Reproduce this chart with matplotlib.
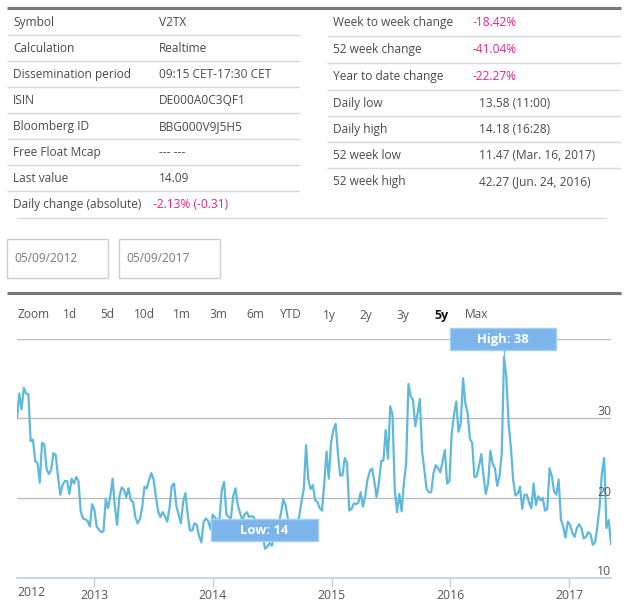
import matplotlib
matplotlib.use("Agg")
import matplotlib.pyplot as plt
import matplotlib.dates as mdates
import pandas as pd
from matplotlib.patches import Rectangle

plt.rcParams['font.family'] = ['Open Sans', 'DejaVu Sans']

left_labels = ["Symbol", "Calculation", "Dissemination period", "ISIN", "Bloomberg ID",
               "Free Float Mcap", "Last value", "Daily change (absolute)"]
left_values = ["V2TX", "Realtime", "09:15 CET-17:30 CET", "DE000A0C3QF1", "BBG000V9J5H5",
               "--- ---", "14.09", "-2.13% (-0.31)"]
right_labels = ["Week to week change", "52 week change", "Year to date change", "Daily low",
                "Daily high", "52 week low", "52 week high"]
right_values = ["-18.42%", "-41.04%", "-22.27%", "13.58 (11:00)", "14.18 (16:28)",
                "11.47 (Mar. 16, 2017)", "42.27 (Jun. 24, 2016)"]
date_inputs = ["05/09/2012", "05/09/2017"]
zoom_labels = ["Zoom", "1d", "5d", "10d", "1m", "3m", "6m", "YTD", "1y", "2y", "3y", "5y", "Max"]
years = [2013, 2014, 2015, 2016, 2017]
y_ticks = [10, 20, 30]

# roughly weekly closes
v2tx = [
    30.0, 33.1, 31.1, 33.8, 33.1, 33.0, 27.1, 27.3, 24.6, 24.4, 21.9, 26.9, 26.7, 23.6, 23.0, 23.5,
    25.6, 25.4, 22.7, 20.4, 21.6, 22.1, 22.1, 20.5, 22.4, 21.8, 22.6, 22.1, 18.3, 17.4, 17.3, 17.1,
    16.4, 19.2, 18.5, 16.4, 16.0, 15.7, 15.8, 19.8, 18.7, 20.2, 22.4, 18.9, 16.6, 20.2, 21.3, 21.0,
    20.1, 21.2, 19.7, 19.5, 17.6, 16.8, 17.3, 18.8, 21.4, 21.2, 22.2, 23.1, 22.3, 20.2, 18.3, 17.6,
    18.2, 17.7, 17.0, 18.7, 21.5, 21.8, 19.0, 17.9, 16.8, 19.5, 20.6, 17.9, 15.9, 15.9, 16.8, 16.6,
    15.2, 14.4, 17.0, 17.4, 17.1, 16.1,
    17.9, 17.5, 17.2, 17.4, 21.0, 22.0, 17.9, 17.6, 17.4, 20.2, 21.2, 19.1, 18.1, 17.2, 17.9, 18.2,
    17.6, 17.7, 17.6, 16.8, 16.2, 15.6, 15.1, 13.6, 13.9, 14.3, 14.0, 15.1, 16.2, 16.8, 18.1, 19.8,
    19.1, 17.4, 16.4, 16.2, 16.4, 16.6, 17.7, 19.5, 21.1, 26.6, 22.3, 21.1, 21.6, 19.7, 19.5, 18.7,
    18.4, 21.8, 25.8, 22.4, 26.9, 28.5, 29.3, 25.6, 22.8, 22.8, 25.0, 24.4, 18.4, 18.6, 19.3, 19.2,
    19.4, 20.7, 18.9, 20.2, 22.3, 23.3, 23.7, 22.1, 20.1, 21.8, 24.6, 24.7, 28.5, 24.9, 31.5, 30.4,
    21.0, 18.2, 20.5, 18.3, 21.8, 24.4, 34.3, 32.7, 32.3, 29.0, 30.6, 32.4, 25.8, 23.5, 21.1, 20.7,
    20.7, 23.1, 24.1, 23.7, 23.2, 24.6, 26.0, 21.8, 22.1, 28.1, 30.4, 32.1, 28.3, 29.4, 35.0, 31.9,
    30.6, 27.4, 26.9, 22.6, 22.7, 24.0, 25.5, 22.7, 20.5, 21.8, 25.9, 24.3, 23.7, 21.5, 22.7, 25.6,
    37.7, 35.2, 29.4, 26.4, 22.3, 20.3, 20.5, 21.4, 18.6, 20.4, 20.4, 19.4, 18.7, 21.8, 19.1, 20.2,
    19.7, 20.0, 18.4, 18.6, 23.7, 22.7, 20.8, 20.4, 22.3, 17.3, 16.4, 15.0, 17.0, 16.6, 15.6, 15.1,
    16.2, 16.7, 16.2, 14.9, 15.1, 15.7, 15.4, 14.1, 14.4, 16.4, 18.9, 23.1, 25.0, 16.2, 17.2, 14.2,
]

TEXT = "#4a4a4a"
PINK = "#e6228c"
RULE = "#d8d8d8"
BAR = "#777777"
LINE = "#5fb9dc"
FLAG = "#7cb5ec"
W, H = 628, 606

fig = plt.figure(figsize=(W / 100, H / 100), dpi=100)

# chart
ax = fig.add_axes([17 / W, 1 - 577.5 / H, 594 / W, 239 / H])
dates = pd.date_range("2012-05-09", "2017-05-09", periods=len(v2tx))
ax.plot(dates, v2tx, color=LINE, lw=1.6, solid_joinstyle="round", zorder=3)
ax.set_xlim(dates[0], dates[-1])
ax.set_ylim(10, 40)
ax.set_yticks([20, 30, 40])
ax.yaxis.grid(True, color="#bdbdbd", lw=1.0, zorder=1)
ax.tick_params(axis="y", length=0, labelleft=False)
for s in ["top", "left", "right"]:
    ax.spines[s].set_visible(False)
ax.spines["bottom"].set_color("#c0d0e0")
ax.spines["bottom"].set_linewidth(1.2)
ax.set_xticks([pd.Timestamp(y, 1, 1) for y in years])
ax.xaxis.set_major_formatter(mdates.DateFormatter("%Y"))
ax.tick_params(axis="x", length=6.5, width=1, color="#c0d0e0", labelcolor="#555555",
               labelsize=8.8, pad=1.5)
ax.patch.set_alpha(0)

# page furniture in pixel coordinates
page = fig.add_axes([0, 0, 1, 1], zorder=5)
page.set_xlim(0, W)
page.set_ylim(H, 0)
page.axis("off")


def hline(y, x0, x1, color=RULE, lw=1.0):
    page.plot([x0, x1], [y, y], color=color, lw=lw, solid_capstyle="butt")


def label(x, y, s, color=TEXT, size=8.6, **kw):
    page.text(x, y, s, color=color, fontsize=size, va="center", **kw)


hline(8, 7, 621, BAR, 2.2)
hline(292.5, 7, 621, BAR, 2.2)
hline(217.5, 17, 606)

for i, (a, b) in enumerate(zip(left_labels, left_values)):
    y = 22.5 + 26 * i
    label(13, y, a)
    if b.startswith("-2"):
        label(153, y, b, PINK)
    else:
        label(159, y, b)
    if i < 7:
        hline(34.5 + 26 * i, 7, 300)

right_rows = [22.5, 49.5, 76.5, 103.5, 129.5, 155.5, 181.5]
right_rules = [35.5, 62.5, 89.5, 115.5, 141.5, 167.5]
for y, a, b in zip(right_rows, right_labels, right_values):
    label(333, y, a)
    if b.startswith("-"):
        label(473, y, b, PINK)
    else:
        label(479, y, b)
for y in right_rules:
    hline(y, 327, 621)

for x, s in zip([7, 119], date_inputs):
    page.add_patch(Rectangle((x, 238.5), 101, 39, fc="white", ec="#cccccc", lw=1))
    label(x + 7, 258, s, "#777777", 8.6)

zoom_x = [17, 63, 100, 134, 173, 209, 246, 280, 323, 359, 396, 434, 465]
for x, s in zip(zoom_x, zoom_labels):
    if s == "5y":
        label(x, 315, s, "#111111", 9.0, fontweight="bold")
    else:
        label(x, 315, s, "#555555", 8.6)

# "2012" has no tick of its own, it sits clipped at the left edge
label(17, 593, "2012", "#555555", 8.8)
for v, y in zip(y_ticks, [571.5, 492.5, 411.5]):
    label(611, y, str(v), "#555555", 8.8, ha="right")

# flags
page.plot([504, 504], [350, 358], color=FLAG, lw=1)
page.add_patch(Rectangle((449.5, 328), 106.5, 22, fc=FLAG, ec="#a6cdf2", lw=1))
label(503, 339, "High: 38", "white", 9.4, ha="center", fontweight="bold")
page.add_patch(Rectangle((210.5, 518.5), 107, 22, fc=FLAG, ec="#a6cdf2", lw=1))
label(264, 530, "Low: 14", "white", 9.4, ha="center", fontweight="bold")

fig.savefig("out.png", dpi=100)
